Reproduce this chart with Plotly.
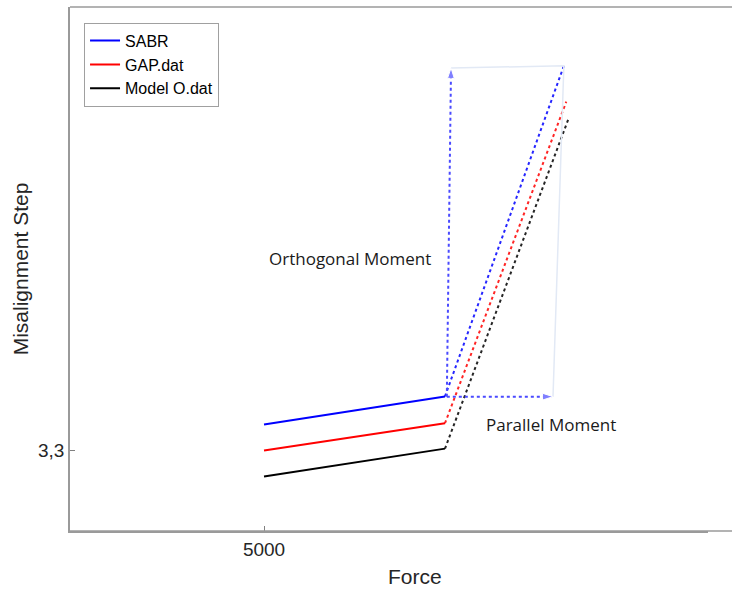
import plotly.graph_objects as go

# Force values (x) for each series: start, knee, end
force_start = 5000
force_knee = 8000
force_end = {"SABR": 9970, "GAP.dat": 10010, "Model O.dat": 10040}

# Misalignment step values (y): start, knee, end
step_start = {"SABR": 3.4, "GAP.dat": 3.3, "Model O.dat": 3.2}
step_knee = {"SABR": 3.508, "GAP.dat": 3.405, "Model O.dat": 3.307}
step_end = {"SABR": 4.78, "GAP.dat": 4.642, "Model O.dat": 4.572}

series_names = ["SABR", "GAP.dat", "Model O.dat"]
series_colors = {"SABR": "#0000ff", "GAP.dat": "#ff0000", "Model O.dat": "#000000"}

# Moment decomposition vectors
moment_origin = (8030, 3.507)
orthogonal_tip = (8100, 4.772)
parallel_tip = (9790, 3.507)
resultant_tip = (9970, 4.78)

x_ticks = [5000]
x_tick_labels = ["5000"]
y_ticks = [3.3]
y_tick_labels = ["3,3"]

fig = go.Figure()

for name in series_names:
    c = series_colors[name]
    fig.add_trace(go.Scatter(
        x=[force_start, force_knee], y=[step_start[name], step_knee[name]],
        mode="lines", line=dict(color=c, width=2), name=name, showlegend=True,
    ))
    fig.add_trace(go.Scatter(
        x=[force_knee, force_end[name]], y=[step_knee[name], step_end[name]],
        mode="lines", line=dict(color=c, width=2, dash="dot"), showlegend=False,
        opacity=0.85,
    ))

# Faint parallelogram completion
fig.add_trace(go.Scatter(
    x=[orthogonal_tip[0], resultant_tip[0], parallel_tip[0]],
    y=[orthogonal_tip[1], resultant_tip[1], parallel_tip[1]],
    mode="lines", line=dict(color="#e2e9f5", width=1.5), showlegend=False,
))

# Orthogonal and parallel moment arrows
arrow_color = "#4a4aff"
for tip in (orthogonal_tip, parallel_tip):
    fig.add_trace(go.Scatter(
        x=[moment_origin[0], tip[0]], y=[moment_origin[1], tip[1]],
        mode="lines+markers",
        line=dict(color=arrow_color, width=2, dash="dot"),
        marker=dict(symbol=["circle", "arrow"], size=[0, 11], angleref="previous",
                    color=arrow_color),
        showlegend=False,
    ))

note_font = dict(family="Open Sans", size=17, color="#1a1a1a")
fig.add_annotation(x=6425, y=4.04, text="Orthogonal Moment", showarrow=False, font=note_font)
fig.add_annotation(x=9757, y=3.398, text="Parallel Moment", showarrow=False, font=note_font)

plot_w = 638                   # plotting area width in px
frame_extent = 662 / plot_w    # frame lines run on past the plotting area

# x-axis title
title_font = dict(family="Liberation Sans, Arial", size=21, color="#262626")
fig.add_annotation(xref="paper", yref="paper", x=(415 - 70) / plot_w, y=-0.087, text="Force",
                   showarrow=False, font=title_font, xanchor="center", yanchor="middle")

# Top and bottom frame lines (open on the right)
frame = dict(color="#9a9a9a", width=1.5)
fig.add_shape(type="line", xref="paper", yref="paper", x0=0, x1=frame_extent, y0=1, y1=1, line=frame)
fig.add_shape(type="line", xref="paper", yref="paper", x0=0, x1=frame_extent, y0=0, y1=0, line=frame)

axis_font = dict(family="Liberation Sans, Arial", size=19, color="#262626")
fig.update_xaxes(
    range=[1784, 1784 + plot_w / 0.06033], tickvals=x_ticks, ticktext=x_tick_labels,
    ticks="inside", ticklen=5, tickcolor="#808080",
    showline=True, linecolor="#9a9a9a", linewidth=1.5, mirror=False,
    showgrid=False, zeroline=False, tickfont=axis_font,
)
fig.update_yaxes(
    range=[2.99, 5.0065], tickvals=y_ticks, ticktext=y_tick_labels,
    ticks="inside", ticklen=5, tickcolor="#808080",
    showline=True, linecolor="#9a9a9a", linewidth=1.5, mirror=False,
    showgrid=False, zeroline=False, tickfont=axis_font,
    title=dict(text="Misalignment Step", font=title_font, standoff=4),
)

fig.update_layout(
    width=748, height=592,
    margin=dict(l=70, r=40, t=7, b=61),
    plot_bgcolor="white", paper_bgcolor="white",
    legend=dict(x=0.022, y=0.97, xanchor="left", yanchor="top",
                bordercolor="#a0a0a0", borderwidth=1, bgcolor="white",
                font=dict(family="Liberation Sans, Arial", size=16, color="#000000"),
                tracegroupgap=0, itemwidth=30),
)

fig.write_html("out.html")
